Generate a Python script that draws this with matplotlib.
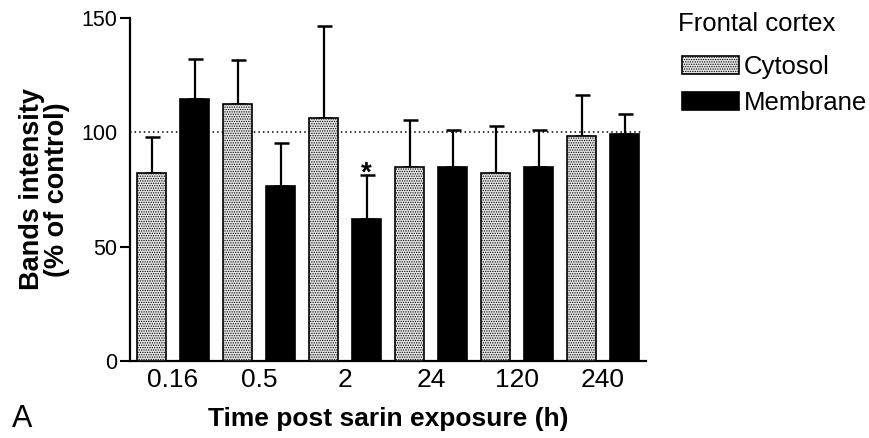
import matplotlib
matplotlib.use("Agg")
import matplotlib.pyplot as plt
import numpy as np

plt.rcParams['font.family'] = ['Liberation Sans', 'DejaVu Sans']
plt.rcParams['hatch.linewidth'] = 0.6
plt.rcParams['hatch.color'] = '#9a9a9a'

# Data
time_labels = ['0.16', '0.5', '2', '24', '120', '240']
cytosol = [82, 112.6, 106.4, 85, 82.3, 98.4]
cytosol_err = [16, 19, 40, 20.4, 20.6, 17.9]
membrane = [114.4, 76.5, 62.1, 85, 84.7, 99.3]
membrane_err = [17.7, 18.7, 19.2, 16, 16.3, 8.8]
significant = [False, False, True, False, False, False]
series_names = ['Cytosol', 'Membrane']
legend_title = 'Frontal cortex'
control_level = 100

fig = plt.figure(figsize=(8.69, 4.38), dpi=100)
ax = fig.add_axes([130/869, 1-361/438, (646-130)/869, (361-18)/438])

x = np.arange(len(time_labels))
w = 0.337
off = 0.25

ax.axhline(control_level, xmin=0, xmax=(642-130)/516, color='black', lw=1.1,
           linestyle=(0, (1, 2)), zorder=1)

b1 = ax.bar(x - off, cytosol, w, facecolor='#e6e6e6', edgecolor='black',
            linewidth=1.2, hatch='.......', zorder=3, label=series_names[0])
b2 = ax.bar(x + off, membrane, w, facecolor='black', edgecolor='black',
            linewidth=1.2, zorder=3, label=series_names[1])

ekw = dict(fmt='none', ecolor='black', elinewidth=1.6, capsize=5.4, capthick=1.8, zorder=2)
ax.errorbar(x - off, cytosol, yerr=[np.zeros(len(cytosol)), cytosol_err], **ekw)
ax.errorbar(x + off, membrane, yerr=[np.zeros(len(membrane)), membrane_err], **ekw)

for xi, m, e, s in zip(x, membrane, membrane_err, significant):
    if s:
        ax.text(xi + off, m + e - 5, '*', ha='center', va='bottom',
                fontsize=20, fontweight='bold')

ax.set_xlim(-0.5, 5.5)
ax.set_ylim(0, 150)
ax.set_yticks([0, 50, 100, 150])
ax.set_xticks(x)
ax.set_xticklabels(time_labels)
ax.tick_params(axis='x', length=0, pad=5, labelsize=19)
ax.tick_params(axis='y', length=7, width=1.5, pad=2, labelsize=15.5)
ax.yaxis.get_major_ticks()[2].tick1line.set_visible(False)

for sp in ['top', 'right']:
    ax.spines[sp].set_visible(False)
for sp in ['left', 'bottom']:
    ax.spines[sp].set_linewidth(1.6)

ax.set_xlabel('Time post sarin exposure (h)', fontsize=19, fontweight='bold', labelpad=11)
ax.set_ylabel('Bands intensity\n(% of control)', fontsize=19.5, fontweight='bold',
              labelpad=8, linespacing=0.95)

leg = ax.legend(handles=[b1, b2], loc='upper left',
                bbox_to_anchor=(682/869, 1-55/438), bbox_transform=fig.transFigure,
                frameon=False, fontsize=18.5,
                handlelength=2.2, handleheight=0.7, handletextpad=0.2,
                labelspacing=0.47, borderpad=0, borderaxespad=0)
fig.text(678/869, 1-24/438, legend_title, fontsize=18.5, ha='left', va='center')

fig.text(12/869, 1-427/438, 'A', fontsize=22, ha='left', va='baseline')

fig.savefig('out.png', dpi=100)
